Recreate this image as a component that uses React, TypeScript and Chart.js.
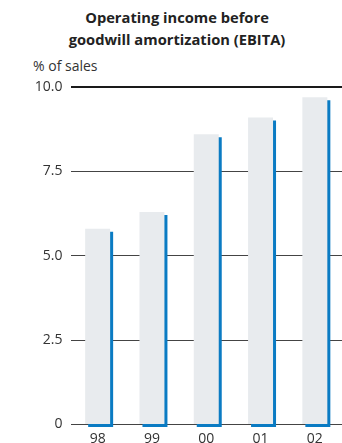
import React, { useEffect, useRef } from "react";
import { Chart, registerables } from "chart.js";

Chart.register(...registerables);

const titleLines = ["Operating income before", "goodwill amortization (EBITA)"];
const unitLabel = "% of sales";
const categories = ["98", "99", "00", "01", "02"];
const ebitaPct = [5.8, 6.3, 8.6, 9.1, 9.7];
const yMin = 0;
const yMax = 10;
const yStep = 2.5;

const BAR_GRAY = "#e8ebee";
const BAR_BLUE = "#0a7bc3";
const FONT = "'Open Sans', 'DejaVu Sans', sans-serif";

const shadowPlugin = {
  id: "barShadow",
  beforeDatasetDraw(chart: any) {
    const ctx = chart.ctx;
    ctx.save();
    ctx.shadowColor = BAR_BLUE;
    ctx.shadowOffsetX = 3;
    ctx.shadowOffsetY = 3;
    ctx.shadowBlur = 0;
  },
  afterDatasetDraw(chart: any) {
    chart.ctx.restore();
  },
};

export default function App() {
  const ref = useRef<HTMLCanvasElement | null>(null);

  useEffect(() => {
    if (!ref.current) return;
    const chart = new Chart(ref.current, {
      type: "bar",
      data: {
        labels: categories,
        datasets: [
          {
            data: ebitaPct,
            backgroundColor: BAR_GRAY,
            borderWidth: 0,
            barPercentage: 0.46,
            categoryPercentage: 1,
            clip: { left: 5, right: 5, top: 5, bottom: 5 },
          } as any,
        ],
      },
      plugins: [shadowPlugin],
      options: {
        animation: false,
        responsive: false,
        maintainAspectRatio: false,
        layout: { padding: { top: 87, right: 0, left: 0, bottom: 0 } },
        plugins: {
          legend: { display: false },
          tooltip: { enabled: false },
          title: { display: false },
        },
        scales: {
          x: {
            grid: { display: false, drawTicks: false },
            border: { display: false },
            ticks: {
              color: "#333",
              font: { family: FONT, size: 14 },
              padding: 6,
            },
            afterFit: (scale: any) => {
              scale.height = 18.5;
            },
          },
          y: {
            min: yMin,
            max: yMax,
            border: { display: false },
            grid: {
              drawTicks: false,
              color: (c: any) => (c.tick && c.tick.value === yMax ? "#1a1a1a" : "#444"),
              lineWidth: (c: any) => (c.tick && c.tick.value === yMax ? 2 : 1),
            },
            ticks: {
              stepSize: yStep,
              color: "#333",
              font: { family: FONT, size: 14 },
              padding: 8,
              callback: (v: any) => (Number(v) === 0 ? "0" : Number(v).toFixed(1)),
            },
            afterFit: (scale: any) => {
              scale.width = 70.5;
            },
          },
        },
      },
    });
    return () => chart.destroy();
  }, []);

  return (
    <div style={{ position: "fixed", left: 0, top: 0, width: 342, height: 443, background: "#fff" }}>
      <div
        style={{
          position: "absolute",
          left: 0,
          top: 6,
          width: 354,
          textAlign: "center",
          fontFamily: FONT,
          fontWeight: 700,
          fontSize: 14.7,
          lineHeight: "22px",
          color: "#222",
        }}
      >
        {titleLines.map((l) => (
          <div key={l}>{l}</div>
        ))}
      </div>
      <div
        style={{
          position: "absolute",
          left: 33,
          top: 56,
          fontFamily: FONT,
          fontSize: 14,
          color: "#333",
          whiteSpace: "nowrap",
        }}
      >
        {unitLabel}
      </div>
      <canvas
        ref={ref}
        width={342}
        height={443}
        style={{ position: "absolute", left: 0, top: 0, width: 342, height: 443 }}
      />
    </div>
  );
}
